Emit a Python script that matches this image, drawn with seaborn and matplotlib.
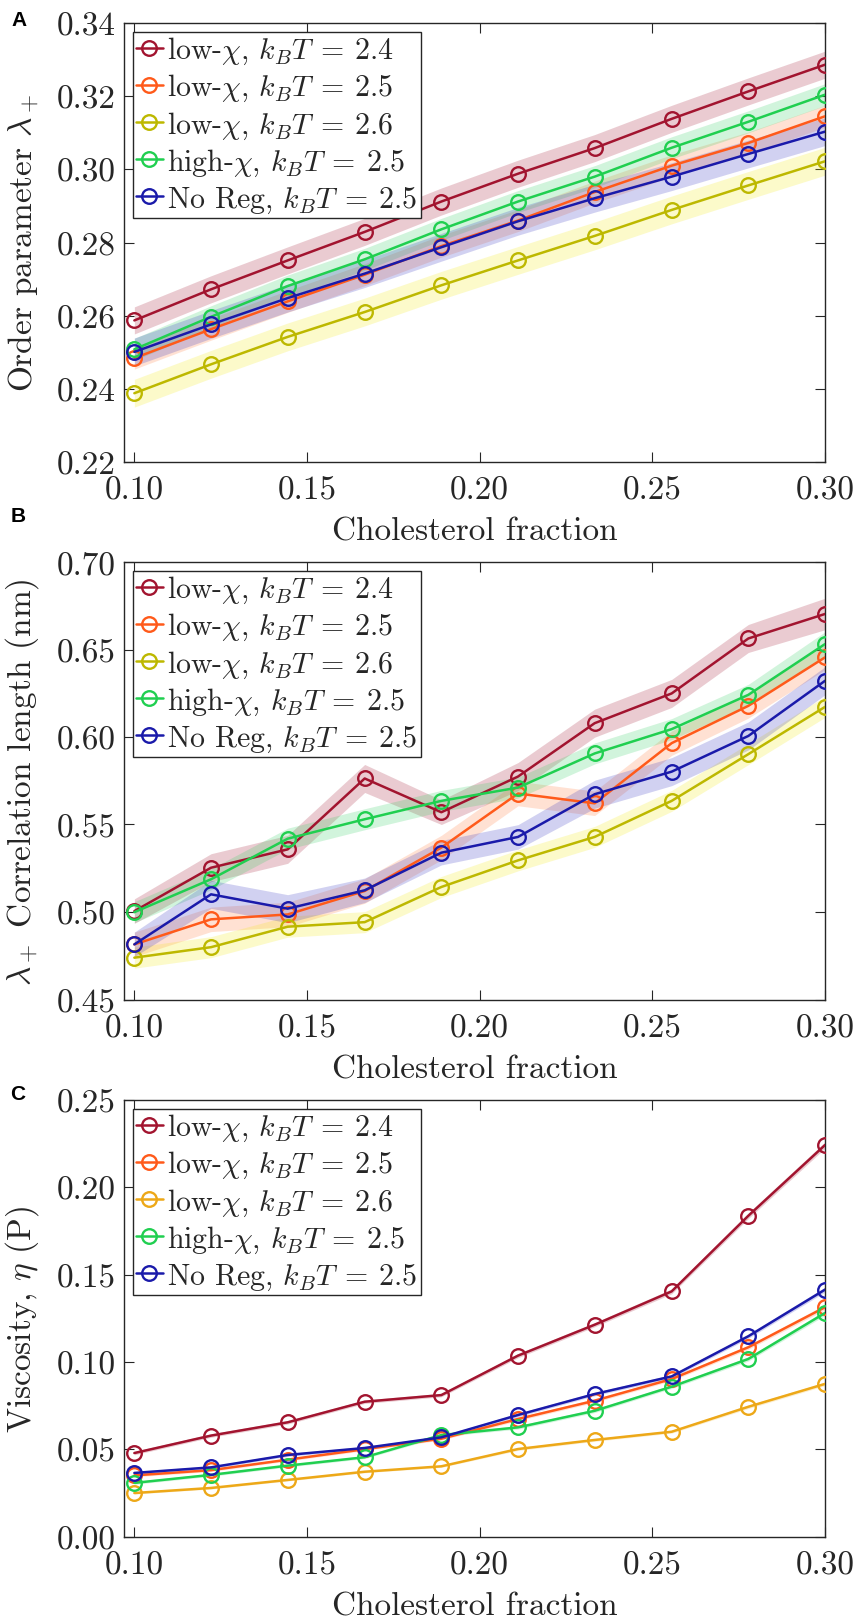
import numpy as np
import pandas as pd
import matplotlib
matplotlib.use("Agg")
import matplotlib.pyplot as plt
from matplotlib.ticker import FormatStrFormatter, MultipleLocator
import seaborn as sns

# ---------------- data ----------------
chol = [0.100, 0.1222, 0.1444, 0.1667, 0.1889, 0.2111, 0.2333, 0.2556, 0.2778, 0.300]

series_labels = [
    r"low-$\chi$, $k_BT\:=\:2.4$",
    r"low-$\chi$, $k_BT\:=\:2.5$",
    r"low-$\chi$, $k_BT\:=\:2.6$",
    r"high-$\chi$, $k_BT\:=\:2.5$",
    r"No Reg, $k_BT\:=\:2.5$",
]

# Panel A: order parameter lambda_+
order_24 = [0.2587, 0.2672, 0.2751, 0.2829, 0.2912, 0.2988, 0.3058, 0.3138, 0.3213, 0.3286]
order_25 = [0.2484, 0.2563, 0.2639, 0.2712, 0.2790, 0.2860, 0.2938, 0.3010, 0.3072, 0.3145]
order_26 = [0.2388, 0.2467, 0.2542, 0.2610, 0.2683, 0.2751, 0.2818, 0.2889, 0.2956, 0.3022]
order_hi = [0.2508, 0.2597, 0.2681, 0.2754, 0.2836, 0.2912, 0.2980, 0.3059, 0.3130, 0.3204]
order_noreg = [0.2501, 0.2576, 0.2648, 0.2715, 0.2787, 0.2858, 0.2921, 0.2980, 0.3042, 0.3103]
order_err_24 = [0.0037, 0.0037, 0.0037, 0.0037, 0.0037, 0.0037, 0.0037, 0.0037, 0.0037, 0.0037]
order_err_25 = [0.0030, 0.0030, 0.0030, 0.0030, 0.0030, 0.0030, 0.0030, 0.0030, 0.0030, 0.0030]
order_err_26 = [0.0038, 0.0038, 0.0038, 0.0038, 0.0038, 0.0038, 0.0038, 0.0038, 0.0038, 0.0038]
order_err_hi = [0.0030, 0.0030, 0.0030, 0.0030, 0.0030, 0.0030, 0.0030, 0.0030, 0.0030, 0.0030]
order_err_noreg = [0.0038, 0.0038, 0.0038, 0.0038, 0.0038, 0.0038, 0.0038, 0.0038, 0.0038, 0.0038]

# Panel B: correlation length (nm)
corr_24 = [0.5005, 0.5253, 0.5358, 0.5763, 0.5570, 0.5774, 0.6079, 0.6249, 0.6563, 0.6703]
corr_25 = [0.4815, 0.4958, 0.4986, 0.5120, 0.5368, 0.5677, 0.5621, 0.5965, 0.6178, 0.6455]
corr_26 = [0.4739, 0.4799, 0.4916, 0.4942, 0.5143, 0.5295, 0.5429, 0.5635, 0.5902, 0.6172]
corr_hi = [0.4999, 0.5187, 0.5419, 0.5530, 0.5635, 0.5711, 0.5906, 0.6045, 0.6241, 0.6531]
corr_noreg = [0.4815, 0.5101, 0.5019, 0.5124, 0.5339, 0.5429, 0.5673, 0.5802, 0.6006, 0.6321]
corr_err_24 = [0.0070, 0.0080, 0.0080, 0.0080, 0.0070, 0.0080, 0.0080, 0.0080, 0.0080, 0.0090]
corr_err_25 = [0.0070, 0.0070, 0.0070, 0.0070, 0.0070, 0.0070, 0.0070, 0.0070, 0.0070, 0.0070]
corr_err_26 = [0.0060, 0.0060, 0.0060, 0.0060, 0.0060, 0.0060, 0.0060, 0.0060, 0.0060, 0.0060]
corr_err_hi = [0.0060, 0.0060, 0.0060, 0.0060, 0.0060, 0.0060, 0.0060, 0.0060, 0.0060, 0.0070]
corr_err_noreg = [0.0070, 0.0080, 0.0080, 0.0070, 0.0070, 0.0070, 0.0080, 0.0080, 0.0080, 0.0080]

# Panel C: viscosity eta (P)
visc_24 = [0.0478, 0.0578, 0.0654, 0.0772, 0.0810, 0.1036, 0.1213, 0.1404, 0.1837, 0.2242]
visc_25 = [0.0350, 0.0380, 0.0440, 0.0500, 0.0560, 0.0673, 0.0778, 0.0902, 0.1084, 0.1313]
visc_26 = [0.0249, 0.0278, 0.0324, 0.0371, 0.0402, 0.0501, 0.0553, 0.0600, 0.0743, 0.0874]
visc_hi = [0.0307, 0.0353, 0.0406, 0.0454, 0.0581, 0.0625, 0.0720, 0.0858, 0.1017, 0.1280]
visc_noreg = [0.0364, 0.0396, 0.0467, 0.0507, 0.0568, 0.0696, 0.0816, 0.0917, 0.1147, 0.1414]
visc_err_24 = [0.0010, 0.0010, 0.0010, 0.0010, 0.0010, 0.0012, 0.0012, 0.0014, 0.0016, 0.0018]
visc_err_25 = [0.0008, 0.0008, 0.0008, 0.0008, 0.0008, 0.0010, 0.0010, 0.0010, 0.0012, 0.0014]
visc_err_26 = [0.0006, 0.0006, 0.0006, 0.0006, 0.0006, 0.0008, 0.0008, 0.0008, 0.0010, 0.0010]
visc_err_hi = [0.0008, 0.0008, 0.0008, 0.0008, 0.0008, 0.0010, 0.0010, 0.0010, 0.0012, 0.0014]
visc_err_noreg = [0.0008, 0.0008, 0.0008, 0.0008, 0.0008, 0.0010, 0.0010, 0.0010, 0.0012, 0.0014]

colors_ab = ["#A2142F", "#FF5A1A", "#BDB800", "#20CF50", "#1A1AAA"]
bands_ab = ["#A2142F", "#FF7A3A", "#F2EA10", "#30D060", "#3030C0"]
colors_c = ["#A2142F", "#FF5A1A", "#EDA818", "#20CF50", "#1A1AAA"]
bands_c = ["#A2142F", "#FF7A3A", "#EDB120", "#30D060", "#3030C0"]

panels = [
    dict(vals=[order_24, order_25, order_26, order_hi, order_noreg],
         errs=[order_err_24, order_err_25, order_err_26, order_err_hi, order_err_noreg],
         ylabel=r"Order parameter $\lambda_+$", ylim=(0.22, 0.34), ystep=0.02,
         colors=colors_ab, bands=bands_ab, letter="A"),
    dict(vals=[corr_24, corr_25, corr_26, corr_hi, corr_noreg],
         errs=[corr_err_24, corr_err_25, corr_err_26, corr_err_hi, corr_err_noreg],
         ylabel=r"$\lambda_+$ Correlation length (nm)", ylim=(0.45, 0.70), ystep=0.05,
         colors=colors_ab, bands=bands_ab, letter="B"),
    dict(vals=[visc_24, visc_25, visc_26, visc_hi, visc_noreg],
         errs=[visc_err_24, visc_err_25, visc_err_26, visc_err_hi, visc_err_noreg],
         ylabel=r"Viscosity, $\eta$ (P)", ylim=(0.0, 0.25), ystep=0.05,
         colors=colors_c, bands=bands_c, letter="C"),
]

# ---------------- style ----------------
sns.set_style("ticks")
plt.rcParams["font.family"] = ["cmr10", "DejaVu Serif"]
plt.rcParams["mathtext.fontset"] = "cm"
plt.rcParams["axes.formatter.use_mathtext"] = True
plt.rcParams["axes.unicode_minus"] = False

W, H = 857, 1624
fig = plt.figure(figsize=(W / 100, H / 100), dpi=100)

# axes boxes in pixels: (left, top, right, bottom)
boxes = [(124, 24, 825, 463), (124, 563, 825, 1000.5), (124, 1101, 825, 1537.5)]
letter_pos = [(19, 20), (18, 517), (18, 1095)]

FS = 24
for p, box, lp in zip(panels, boxes, letter_pos):
    l, t, r, b = box
    ax = fig.add_axes([l / W, 1 - b / H, (r - l) / W, (b - t) / H])
    for vals, errs, c, bc, lab in zip(p["vals"], p["errs"], p["colors"], p["bands"], series_labels):
        v = np.array(vals)
        e = np.array(errs)
        ax.fill_between(chol, v - e, v + e, color=bc, alpha=0.22, lw=0, zorder=1)
        df = pd.DataFrame({"x": chol, "y": vals})
        sns.lineplot(data=df, x="x", y="y", ax=ax, color=c, lw=1.8,
                     marker="o", markersize=10.5, markerfacecolor="none",
                     markeredgecolor=c, markeredgewidth=1.7, label=lab, zorder=3)
    ax.set_xlim(0.097, 0.30)
    ax.set_ylim(*p["ylim"])
    ax.xaxis.set_major_locator(MultipleLocator(0.05))
    ax.yaxis.set_major_locator(MultipleLocator(p["ystep"]))
    ax.xaxis.set_major_formatter(FormatStrFormatter("%.2f"))
    ax.yaxis.set_major_formatter(FormatStrFormatter("%.2f"))
    ax.tick_params(direction="in", top=True, right=True, length=7, width=0.8,
                   labelsize=FS, colors="#262626", labelcolor="#262626")
    ax.tick_params(axis="x", pad=10)
    ax.tick_params(axis="y", pad=6)
    for s in ax.spines.values():
        s.set_visible(True)
        s.set_color("#262626")
        s.set_linewidth(1.0)
    ax.set_xlabel("Cholesterol fraction", fontsize=FS, color="#262626")
    ax.set_ylabel(p["ylabel"], fontsize=FS, color="#262626")
    ax.xaxis.set_label_coords(0.5, -0.125)
    ax.yaxis.set_label_coords(-0.118, 0.5)
    leg = ax.legend(loc="upper left", fontsize=21.5, frameon=True, fancybox=False,
                    edgecolor="#262626", framealpha=1, borderaxespad=0.3,
                    handlelength=0.9, handletextpad=0.15, labelspacing=0.2,
                    borderpad=0.1)
    leg.get_frame().set_linewidth(1.0)
    fig.text(lp[0] / W, 1 - lp[1] / H, p["letter"], fontsize=15, fontweight="bold",
             family="Liberation Sans", ha="center", va="center", color="black")

fig.savefig("out.png", dpi=100)
